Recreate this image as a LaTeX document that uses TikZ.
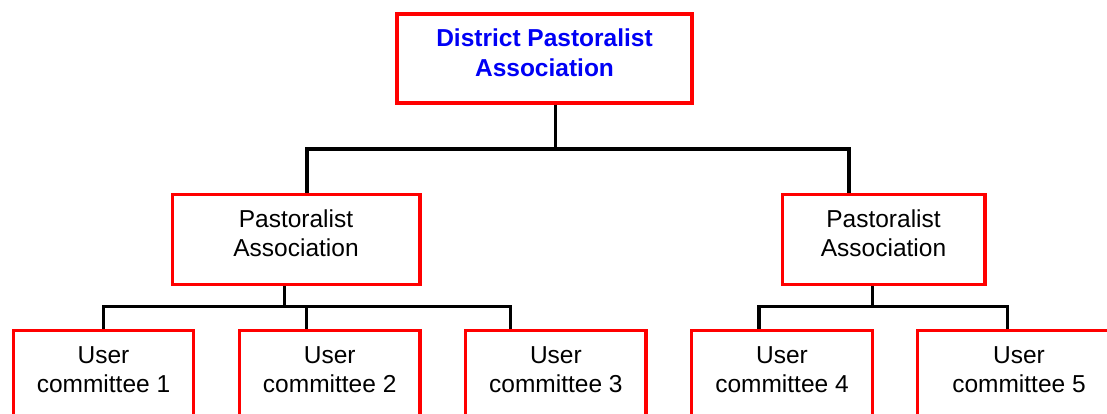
\documentclass[tikz,border=0pt]{standalone}
\usepackage{fontspec}
\setmainfont{Liberation Sans}
\definecolor{boxred}{RGB}{255,0,0}
\definecolor{titleblue}{RGB}{0,0,245}
\begin{document}
\begin{tikzpicture}[x=1pt,y=-1pt,
  box/.style={draw=boxred,line width=3.3pt,fill=white,inner sep=0pt},
  lbl/.style={align=center,font=\fontsize{24.5}{29}\selectfont,inner sep=0pt},
  toplbl/.style={align=center,font=\fontsize{24.5}{30}\selectfont\bfseries,text=titleblue,inner sep=0pt},
  conn/.style={draw=black,line width=3.5pt}]
\useasboundingbox (0,0) rectangle (1107,414);
\clip (0,0) rectangle (1107,414);
% boxes
\node[box,minimum width=295pt,minimum height=89pt] (top) at (544.5,58.5) {};
\node[box,minimum width=247.7pt,minimum height=90pt] (pa1) at (296.2,239.5) {};
\node[box,minimum width=202.7pt,minimum height=90pt] (pa2) at (883.7,239.5) {};
\node[box,minimum width=179.6pt,minimum height=110pt] (uc1) at (103.5,385.5) {};
\node[box,minimum width=180.7pt,minimum height=110pt] (uc2) at (329.7,385.5) {};
\node[box,minimum width=180.3pt,minimum height=110pt] (uc3) at (555.9,385.5) {};
\node[box,minimum width=180.6pt,minimum height=110pt] (uc4) at (782,385.5) {};
\node[box,minimum width=202.6pt,minimum height=110pt] (uc5) at (1019,385.5) {};
% texts
\node[toplbl] (ttop) at (544.5,52.5) {District Pastoralist\\Association};
\node[lbl] (tpa1) at (296,233.5) {Pastoralist\\Association};
\node[lbl] (tpa2) at (883.5,233.5) {Pastoralist\\Association};
\node[lbl] (tuc1) at (103.5,369.4) {User\\committee 1};
\node[lbl] (tuc2) at (329.7,369.4) {User\\committee 2};
\node[lbl] (tuc3) at (555.9,369.4) {User\\committee 3};
\node[lbl] (tuc4) at (782,369.4) {User\\committee 4};
\node[lbl] (tuc5) at (1019,369.4) {User\\committee 5};
% junctions
\coordinate (j0) at (555.3,149);
\coordinate (jl) at (307,149);
\coordinate (jr) at (849,149);
\coordinate (k1) at (284.3,306.7);
\coordinate (b1) at (103.3,306.7);
\coordinate (b2) at (306.7,306.7);
\coordinate (b3) at (510.3,306.7);
\coordinate (k2) at (872.5,306.7);
\coordinate (b4) at (759,306.7);
\coordinate (b5) at (1007.3,306.7);
% connectors
\draw[conn] (top.south -| j0) -- (j0);
\draw[conn] (pa1.north -| jl) |- (jr) -| (pa2.north -| jr);
\draw[conn] (pa1.south -| k1) -- (k1);
\draw[conn] (uc1.north -| b1) |- (b3) -| (uc3.north -| b3);
\draw[conn] (uc2.north -| b2) -- (b2);
\draw[conn] (pa2.south -| k2) -- (k2);
\draw[conn] (uc4.north -| b4) |- (b5) -| (uc5.north -| b5);
\end{tikzpicture}
\end{document}
